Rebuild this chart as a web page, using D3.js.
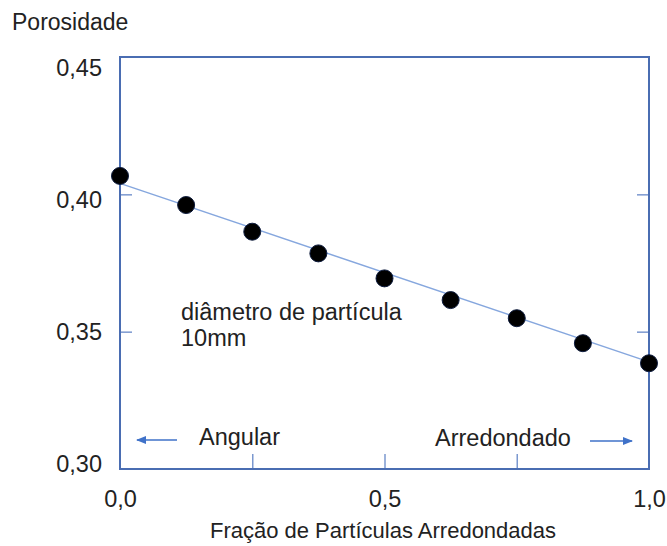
<!DOCTYPE html>
<html>
<head>
<meta charset="utf-8">
<script src="https://cdn.jsdelivr.net/npm/d3@7"></script>
<style>
  body { margin: 0; background: #fff; }
  text { font-family: "Liberation Sans", Arial, sans-serif; fill: #222; }
</style>
</head>
<body>
<div id="chart"></div>
<script>
"use strict";

// data
const fractions = [0, 0.125, 0.25, 0.375, 0.5, 0.625, 0.75, 0.875, 1.0];
const porosity = [0.4067, 0.3961, 0.3864, 0.3785, 0.3694, 0.3615, 0.3549, 0.3458, 0.3385];
const fitLine = [0.404, 0.339];          // straight line at x = 0 and x = 1
const yTicks = [0.30, 0.35, 0.40, 0.45];
const xTicks = [0, 0.25, 0.5, 0.75, 1.0];
const xLabelled = [0, 0.5, 1.0];

const W = 667, H = 546;
const plotL = 120, plotR = 649, plotT = 57, plotB = 469;

const x = d3.scaleLinear().domain([0, 1]).range([plotL, plotR]);
const y = d3.scaleLinear().domain([0.30, 0.45]).range([plotB, plotT]);
// tick labels in the original sit a little off their ticks
const yLabel = d3.scaleLinear().domain([0.30, 0.45]).range([471, 75]);

const comma = d => d3.format(".2f")(d).replace(".", ",");
const comma1 = d => d3.format(".1f")(d).replace(".", ",");

const svg = d3.select("#chart").append("svg")
  .attr("width", W).attr("height", H);

const axisColor = "#4a6db2";
const tickColor = "#7b98cf";
const fs = "23.5px";

// left axis: inner ticks, labels placed by yLabel
const gl = svg.append("g").attr("transform", `translate(${plotL},0)`)
  .call(d3.axisLeft(y).tickValues(yTicks).tickSize(-12).tickPadding(18).tickFormat(comma));
gl.select(".domain").remove();
gl.selectAll(".tick line").attr("stroke", tickColor).attr("stroke-width", 1.5)
  .filter(d => d === 0.30 || d === 0.45).remove();
gl.selectAll(".tick text")
  .attr("dy", null)
  .attr("y", d => yLabel(d) - y(d))
  .style("font-size", fs).style("fill", "#222");

// right axis ticks
const gr = svg.append("g").attr("transform", `translate(${plotR},0)`)
  .call(d3.axisRight(y).tickValues([0.35, 0.40]).tickSize(-12).tickFormat(""));
gr.select(".domain").remove();
gr.selectAll(".tick line").attr("stroke", tickColor).attr("stroke-width", 1.5);

// bottom axis
const gb = svg.append("g").attr("transform", `translate(0,${plotB})`)
  .call(d3.axisBottom(x).tickValues(xTicks).tickSize(-15).tickPadding(21)
    .tickFormat(d => xLabelled.includes(d) ? comma1(d) : ""));
gb.select(".domain").remove();
gb.selectAll(".tick line").attr("stroke", tickColor).attr("stroke-width", 1.5)
  .filter(d => d === 0 || d === 1).remove();
gb.selectAll(".tick text")
  .style("font-size", fs).style("fill", "#222");

// plot frame
svg.append("rect")
  .attr("x", x(0)).attr("y", y(0.45))
  .attr("width", x(1) - x(0)).attr("height", y(0.30) - y(0.45))
  .attr("fill", "none").attr("stroke", axisColor).attr("stroke-width", 2);

// fitted line
svg.append("line")
  .attr("x1", x(0)).attr("y1", y(fitLine[0]))
  .attr("x2", x(1)).attr("y2", y(fitLine[1]))
  .attr("stroke", "#86a7de").attr("stroke-width", 1.5);

// points
svg.append("g").selectAll("circle")
  .data(fractions.map((f, i) => ({ f: f, p: porosity[i] })))
  .enter().append("circle")
  .attr("cx", d => x(d.f)).attr("cy", d => y(d.p))
  .attr("r", 8.5)
  .attr("fill", "#000").attr("stroke", "#0d1b3d").attr("stroke-width", 1);

// titles
svg.append("text").attr("x", 12).attr("y", 30)
  .style("font-size", "23px").text("Porosidade");
svg.append("text").attr("x", 383).attr("y", 538)
  .attr("text-anchor", "middle")
  .style("font-size", "22px").text("Fração de Partículas Arredondadas");

// annotation
svg.append("text").attr("x", 181).attr("y", 320)
  .style("font-size", fs).text("diâmetro de partícula");
svg.append("text").attr("x", 181).attr("y", 346)
  .style("font-size", fs).text("10mm");

svg.append("text").attr("x", 199).attr("y", 445)
  .style("font-size", fs).text("Angular");
svg.append("text").attr("x", 435).attr("y", 446)
  .style("font-size", fs).text("Arredondado");

// arrows
const defs = svg.append("defs");
defs.append("marker").attr("id", "head")
  .attr("viewBox", "0 0 10 10").attr("refX", 9).attr("refY", 5)
  .attr("markerWidth", 7).attr("markerHeight", 7)
  .attr("orient", "auto")
  .append("path").attr("d", "M0,1 L10,5 L0,9 Z").attr("fill", "#3f72c9");

svg.append("line")
  .attr("x1", 177).attr("y1", 440).attr("x2", 137).attr("y2", 440)
  .attr("stroke", "#3f72c9").attr("stroke-width", 1.5)
  .attr("marker-end", "url(#head)");
svg.append("line")
  .attr("x1", 590).attr("y1", 441).attr("x2", 632).attr("y2", 441)
  .attr("stroke", "#3f72c9").attr("stroke-width", 1.5)
  .attr("marker-end", "url(#head)");
</script>
</body>
</html>
